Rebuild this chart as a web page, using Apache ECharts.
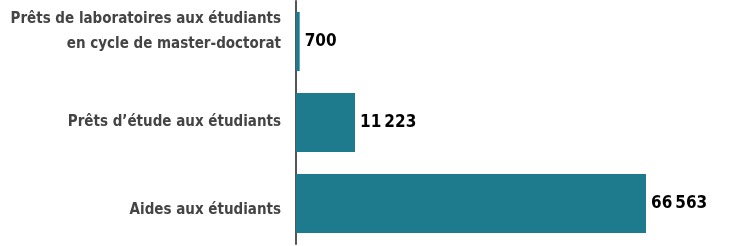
<!DOCTYPE html>
<html>
<head>
<meta charset="utf-8">
<script src="https://cdn.jsdelivr.net/npm/echarts@6/dist/echarts.min.js"></script>
<style>
  html, body { margin: 0; padding: 0; background: #ffffff; }
  #main { width: 735px; height: 246px; }
</style>
</head>
<body>
<div id="main"></div>
<script>
// categories listed bottom to top (category axis on y starts at the bottom)
const categories = [
  'Aides aux étudiants',
  'Prêts d\u2019étude aux étudiants',
  'Prêts de laboratoires aux étudiants\nen cycle de master-doctorat'
];
const values = [66563, 11223, 700];

const fmt = v => String(v).replace(/\B(?=(\d{3})+(?!\d))/g, '\u2009');
const font = "'DejaVu Sans Condensed', 'Liberation Sans Narrow', sans-serif";

// the labels in the original sit a little off the bar centres (px, + = down)
const labelShift = [7, 0, -9.5];

const labelFormatter = (value, index) => {
  const lines = value.split('\n').map(l => '{t|' + l + '}');
  const s = labelShift[index] || 0;
  if (s > 0) lines.unshift('{gapA| }');
  if (s < 0) lines.push('{gapB| }');
  return lines.join('\n');
};

let myChart = echarts.init(document.getElementById('main'));
let option = {
  animation: false,
  grid: { left: 296, right: 89, top: 1, bottom: 2, outerBoundsMode: 'none', containLabel: false },
  xAxis: {
    type: 'value',
    min: 0,
    max: 'dataMax',
    show: false
  },
  yAxis: {
    type: 'category',
    data: categories,
    offset: 3,
    axisLine: { show: true, lineStyle: { color: '#555555', width: 2 } },
    axisTick: { show: false },
    axisLabel: {
      margin: 12,
      color: '#444444',
      fontFamily: font,
      fontWeight: 'bold',
      fontSize: 15,
      lineHeight: 25,
      align: 'right',
      formatter: labelFormatter,
      rich: {
        t: {
          align: 'right', color: '#444444', fontFamily: font, fontWeight: 'bold',
          fontSize: 15, lineHeight: 25, height: 25
        },
        gapA: { fontSize: 1, lineHeight: 14, height: 14 },
        gapB: { fontSize: 1, lineHeight: 19, height: 19 }
      }
    }
  },
  series: [
    {
      type: 'bar',
      data: values,
      barCategoryGap: '27%',
      itemStyle: { color: '#1e7b8e' },
      label: {
        show: true,
        position: 'right',
        distance: 5,
        color: '#000000',
        fontFamily: font,
        fontWeight: 'bold',
        fontSize: 17,
        formatter: p => fmt(p.value)
      }
    }
  ]
};
myChart.setOption(option);
</script>
</body>
</html>
